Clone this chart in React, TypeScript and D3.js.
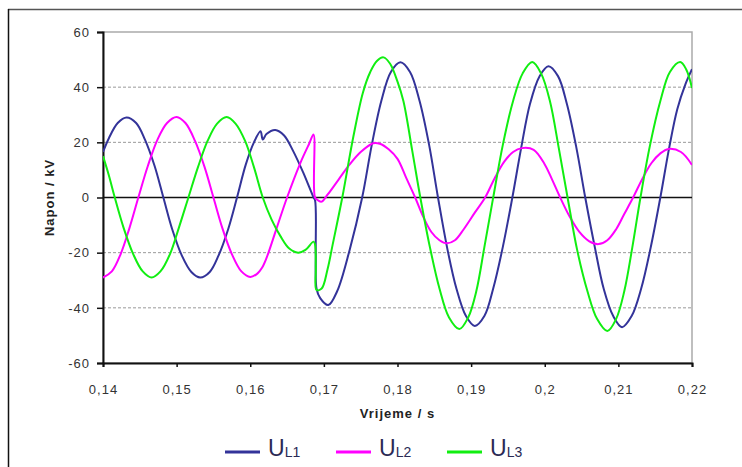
import * as d3 from "d3";
import React, { useRef, useEffect } from "react";

// time (s) / voltage (kV)
const t1 = [0.14, 0.1408, 0.142, 0.1432, 0.1445, 0.1457, 0.147, 0.1482, 0.1494, 0.1507, 0.152, 0.1532, 0.1545, 0.1557, 0.157, 0.1582, 0.1594, 0.1605, 0.1614, 0.1617, 0.1622, 0.1634, 0.1646, 0.1658, 0.1672, 0.1686, 0.1688, 0.1689, 0.169, 0.1695, 0.1706, 0.1718, 0.1735, 0.1752, 0.1765, 0.1778, 0.1791, 0.1804, 0.1817, 0.183, 0.1843, 0.1855, 0.1868, 0.188, 0.1893, 0.1905, 0.1918, 0.193, 0.1943, 0.1956, 0.1968, 0.198, 0.1993, 0.2005, 0.2018, 0.203, 0.2043, 0.2055, 0.2068, 0.208, 0.2093, 0.2105, 0.2118, 0.2131, 0.2144, 0.2157, 0.2169, 0.218, 0.2191, 0.22];
const u1 = [16.5, 21.5, 27, 29, 27, 21, 11.5, 0, -11.5, -21, -27, -29, -27, -21, -11.5, 0, 12, 20, 24, 21, 23, 24.5, 22.5, 17, 9, 0, -1, -20, -33, -36.5, -39, -34, -19, 0, 19, 35, 45.5, 49, 45.5, 35, 19, 0, -19, -33, -43, -46.6, -43, -33, -18, 0, 18, 34, 44, 47.6, 44, 34, 18, 0, -18, -33, -43, -47, -43, -33, -18, 0, 18, 32, 41, 46.5];

const t2 = [0.14, 0.1412, 0.1424, 0.1436, 0.1448, 0.1461, 0.1474, 0.1487, 0.15, 0.1512, 0.1525, 0.1538, 0.155, 0.1562, 0.1575, 0.1588, 0.16, 0.161, 0.1616, 0.1622, 0.1636, 0.165, 0.1668, 0.168, 0.1686, 0.1688, 0.1692, 0.1697, 0.1705, 0.172, 0.1735, 0.175, 0.1767, 0.1776, 0.1788, 0.18, 0.1812, 0.1824, 0.1835, 0.1846, 0.1857, 0.1867, 0.1878, 0.189, 0.1905, 0.1919, 0.1932, 0.1945, 0.1957, 0.1969, 0.1985, 0.2, 0.201, 0.2021, 0.2034, 0.2047, 0.206, 0.2073, 0.2085, 0.2097, 0.2108, 0.212, 0.2133, 0.2145, 0.2157, 0.2168, 0.2185, 0.22];
const u2 = [-29, -26.8, -20.5, -11, 0, 11.5, 21, 27, 29.2, 27, 20.5, 11, 0, -11, -20.5, -26.8, -28.8, -27.5, -25.5, -22, -11, 0, 12.5, 19.5, 22.8, 0, -1, -1.5, 1, 6.5, 12, 16.5, 19.7, 19.5, 17.5, 14, 7, 0, -7, -12.5, -15.5, -16.6, -15.5, -11.5, -5.5, 0, 7, 13, 16.5, 17.9, 17.3, 12, 6.5, 0, -7, -12.5, -15.8, -16.9, -15.5, -11.5, -6, 0, 7, 12.5, 16, 17.6, 16.5, 11.8];

const t3 = [0.14, 0.1408, 0.1416, 0.1428, 0.1441, 0.1454, 0.1466, 0.1478, 0.1491, 0.1503, 0.1516, 0.1529, 0.1542, 0.1555, 0.1568, 0.158, 0.1593, 0.1605, 0.1617, 0.1629, 0.1641, 0.1653, 0.1665, 0.1675, 0.1686, 0.1688, 0.1689, 0.169, 0.1697, 0.1705, 0.1712, 0.1725, 0.174, 0.1753, 0.1763, 0.1772, 0.1781, 0.179, 0.18, 0.1808, 0.182, 0.1831, 0.1844, 0.1857, 0.187, 0.1884, 0.1896, 0.1907, 0.1918, 0.193, 0.1943, 0.1957, 0.197, 0.1983, 0.1995, 0.2007, 0.2019, 0.2031, 0.2044, 0.2058, 0.2071, 0.2085, 0.2097, 0.2108, 0.2119, 0.213, 0.2143, 0.2157, 0.217, 0.2184, 0.2192, 0.22];
const u3 = [15, 8, 0, -11, -20.5, -26.8, -29, -26.8, -20.5, -11, 0, 11, 20.5, 26.8, 29.2, 26.8, 20.5, 11, 0, -8, -14, -18.5, -20, -19, -16, -17, -26, -33.5, -33, -26, -17, 0, 22, 38, 45.5, 49.5, 50.8, 48.5, 42, 35, 17, 0, -18, -33, -43.5, -47.7, -43.5, -34, -18, 0, 19, 35, 45, 49.1, 45, 35, 18, 0, -19, -34, -44, -48.4, -44, -34, -18, 0, 19, 35, 45.5, 49.1, 46.5, 39.7];

const xTicks = [0.14, 0.15, 0.16, 0.17, 0.18, 0.19, 0.2, 0.21, 0.22];
const yTicks = [-60, -40, -20, 0, 20, 40, 60];
const seriesNames = ["L1", "L2", "L3"];
const colors = ["#333399", "#ff00ff", "#11ee11"];

const W = 742;
const H = 467;
const FONT = "'Liberation Sans', Arial, sans-serif";

function App() {
  const ref = useRef(null);

  useEffect(() => {
    draw();
  }, []);

  const draw = () => {
    const svg = d3.select(ref.current);
    svg.selectAll("*").remove();

    const x = d3.scaleLinear().domain([0.14, 0.22]).range([103, 692]);
    const y = d3.scaleLinear().domain([-60, 60]).range([363, 32]);

    // outer frame (top + left only visible)
    svg.append("line").attr("x1", 8).attr("x2", W).attr("y1", 9.5).attr("y2", 9.5)
      .attr("stroke", "#555").attr("stroke-width", 1.5);
    svg.append("line").attr("x1", 8.5).attr("x2", 8.5).attr("y1", 9).attr("y2", H)
      .attr("stroke", "#111").attr("stroke-width", 1.5);

    // plot border
    svg.append("rect").attr("x", x(0.14)).attr("y", y(60))
      .attr("width", x(0.22) - x(0.14)).attr("height", y(-60) - y(60))
      .attr("fill", "none").attr("stroke", "#aaa").attr("stroke-width", 1.5);

    // grid
    svg.append("g").selectAll("line")
      .data(yTicks.filter((d) => d !== 0 && Math.abs(d) !== 60))
      .enter().append("line")
      .attr("x1", x(0.14)).attr("x2", x(0.22))
      .attr("y1", (d) => y(d)).attr("y2", (d) => y(d))
      .attr("stroke", "#999").attr("stroke-dasharray", "3,2").attr("stroke-width", 1);

    // zero line
    svg.append("line").attr("x1", x(0.14)).attr("x2", x(0.22))
      .attr("y1", y(0)).attr("y2", y(0)).attr("stroke", "#111").attr("stroke-width", 1.5);

    // axes
    const yAxis = d3.axisLeft(y).tickValues(yTicks).tickSize(6).tickFormat((d) => String(d));
    const gy = svg.append("g").attr("transform", `translate(${x(0.14)},0)`).call(yAxis);
    gy.select(".domain").attr("stroke", "#111").attr("stroke-width", 2);
    gy.selectAll(".tick line").attr("stroke", "#111").attr("stroke-width", 1.5);
    gy.selectAll("text").attr("font-family", FONT).attr("font-size", 13)
      .attr("letter-spacing", 1).attr("fill", "#333").attr("x", -13);

    const xAxis = d3.axisBottom(x).tickValues(xTicks).tickSize(4)
      .tickFormat((d) => String(+d).replace(".", ","));
    const gx = svg.append("g").attr("transform", `translate(0,${y(-60)})`).call(xAxis);
    gx.select(".domain").attr("stroke", "#111").attr("stroke-width", 2);
    gx.selectAll(".tick line").attr("stroke", "#111").attr("stroke-width", 1.5);
    gx.selectAll("text").attr("font-family", FONT).attr("font-size", 13)
      .attr("letter-spacing", 1).attr("fill", "#333").attr("y", 22);

    // titles
    svg.append("text").attr("x", (x(0.14) + x(0.22)) / 2).attr("y", 418)
      .attr("text-anchor", "middle").attr("font-family", FONT).attr("font-weight", "bold")
      .attr("font-size", 13).attr("letter-spacing", 1).attr("fill", "#222").text("Vrijeme / s");
    svg.append("text").attr("transform", `translate(54,${y(0)}) rotate(-90)`)
      .attr("text-anchor", "middle").attr("font-family", FONT).attr("font-weight", "bold")
      .attr("font-size", 13).attr("letter-spacing", 1).attr("fill", "#222").text("Napon / kV");

    // series
    const line = d3.line().x((d) => x(d[0])).y((d) => y(d[1])).curve(d3.curveCatmullRom.alpha(0.5));
    const series = [
      d3.zip(t1, u1),
      d3.zip(t2, u2),
      d3.zip(t3, u3),
    ];
    svg.append("defs").append("clipPath").attr("id", "plotclip").append("rect")
      .attr("x", x(0.14)).attr("y", y(60) - 2)
      .attr("width", x(0.22) - x(0.14)).attr("height", y(-60) - y(60) + 4);
    svg.append("g").attr("clip-path", "url(#plotclip)")
      .selectAll("path").data(series).enter().append("path")
      .attr("d", (d) => line(d))
      .attr("fill", "none")
      .attr("stroke", (d, i) => colors[i])
      .attr("stroke-width", 2);

    // legend
    const legendX = [225, 336, 447];
    seriesNames.forEach((name, i) => {
      const lx = legendX[i];
      svg.append("line").attr("x1", lx).attr("x2", lx + 35).attr("y1", 452).attr("y2", 452)
        .attr("stroke", colors[i]).attr("stroke-width", 3);
      const tx = svg.append("text").attr("x", lx + 43).attr("y", 456)
        .attr("font-family", FONT).attr("font-size", 23).attr("fill", "#2a2a55");
      tx.append("tspan").text("U");
      tx.append("tspan").attr("font-size", 14).attr("dy", 1).text(name);
    });
  };

  return (
    <svg ref={ref} width={W} height={H}
      style={{ position: "absolute", left: 0, top: 0, background: "#fff" }} />
  );
}

export default App;
